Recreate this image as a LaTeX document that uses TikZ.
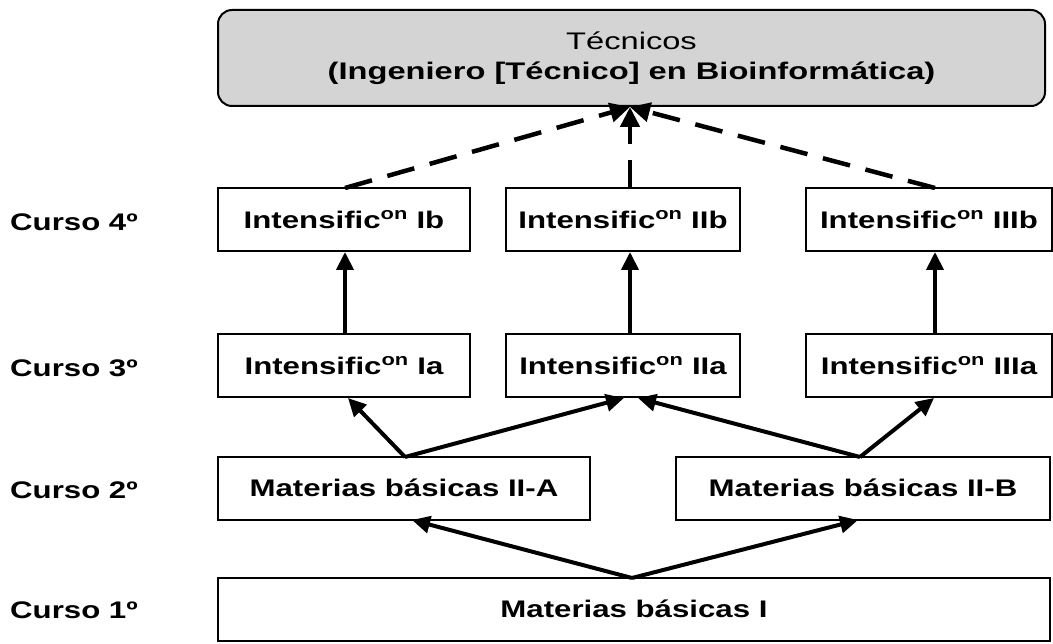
\documentclass[tikz,border=0pt]{standalone}
\usepackage{fontspec}
\setmainfont{Liberation Sans}
\newfontfamily\widefont[FakeStretch=1.3]{Liberation Sans}
\newfontfamily\topfont[FakeStretch=1.36]{Liberation Sans}
\usetikzlibrary{arrows.meta}
\tikzset{
  box/.style={draw=black, line width=2pt, minimum height=63pt, inner sep=0pt, font=\widefont\fontsize{24}{28}\selectfont\bfseries},
  lbl/.style={anchor=west, inner sep=0pt, font=\widefont\fontsize{24}{28}\selectfont\bfseries},
  arr/.style={line width=4pt, -{Triangle[length=18pt,width=17pt]}},
  darr/.style={line width=4.5pt, dash pattern=on 28pt off 16pt, -{Triangle[length=20pt,width=19pt]}}
}
\newcommand{\intf}{Intensific\textsuperscript{on}}
\begin{document}
\begin{tikzpicture}[x=1pt,y=-1pt]
\useasboundingbox (0,0) rectangle (1053,644);
% top box
\node[draw=black, line width=2pt, fill=black!17, rounded corners=14pt, minimum width=827pt, minimum height=96pt, inner sep=0pt, align=center, font=\topfont\fontsize{24}{30}\selectfont] (tec) at (631.5,58)
  {Técnicos\\\bfseries (Ingeniero [Técnico] en Bioinformática)};
% row 4
\node[box, minimum width=252pt] (b1) at (344,220) {\intf\ Ib};
\node[box, minimum width=234pt] (b2) at (623,220) {\intf\ IIb};
\node[box, minimum width=246pt] (b3) at (929,220) {\intf\ IIIb};
% row 3
\node[box, minimum width=252pt] (a1) at (344,366) {\intf\ Ia};
\node[box, minimum width=234pt] (a2) at (623,366) {\intf\ IIa};
\node[box, minimum width=246pt] (a3) at (929,366) {\intf\ IIIa};
% row 2
\node[box, minimum width=372pt] (mA) at (404,488) {Materias básicas II-A};
\node[box, minimum width=374pt] (mB) at (863,488) {Materias básicas II-B};
% row 1
\node[box, minimum width=832pt] (m1) at (634,609) {Materias básicas I};
% labels
\node[lbl] (c4) at (10,222) {Curso 4º};
\node[lbl] (c3) at (10,368) {Curso 3º};
\node[lbl] (c2) at (10,490) {Curso 2º};
\node[lbl] (c1) at (10,610) {Curso 1º};
% coordinates
\coordinate (t) at (630,107);
\coordinate (b1t) at (345,188);
\coordinate (b2t) at (630,188);
\coordinate (b3t) at (935,188);
\coordinate (b1b) at (345,252);
\coordinate (b2b) at (630,252);
\coordinate (b3b) at (935,252);
\coordinate (a1t) at (345,334);
\coordinate (a2t) at (630,334);
\coordinate (a3t) at (935,334);
\coordinate (a1b) at (348,398);
\coordinate (a2bl) at (624,398);
\coordinate (a2br) at (638,398);
\coordinate (a3b) at (934,398);
\coordinate (mAt) at (405,457);
\coordinate (mBt) at (860,457);
\coordinate (mAb) at (412,520);
\coordinate (mBb) at (858,520);
\coordinate (m1t) at (632,578);
% dashed arrows
\draw[darr] (b1t) -- (t);
\draw[darr] (b2t) -- (t);
\draw[darr] (b3t) -- (t);
% solid arrows
\draw[arr] (a1t) -- (b1b);
\draw[arr] (a2t) -- (b2b);
\draw[arr] (a3t) -- (b3b);
\draw[arr] (mAt) -- (a1b);
\draw[arr] (mAt) -- (a2bl);
\draw[arr] (mBt) -- (a2br);
\draw[arr] (mBt) -- (a3b);
\draw[arr] (m1t) -- (mAb);
\draw[arr] (m1t) -- (mBb);
\end{tikzpicture}
\end{document}
